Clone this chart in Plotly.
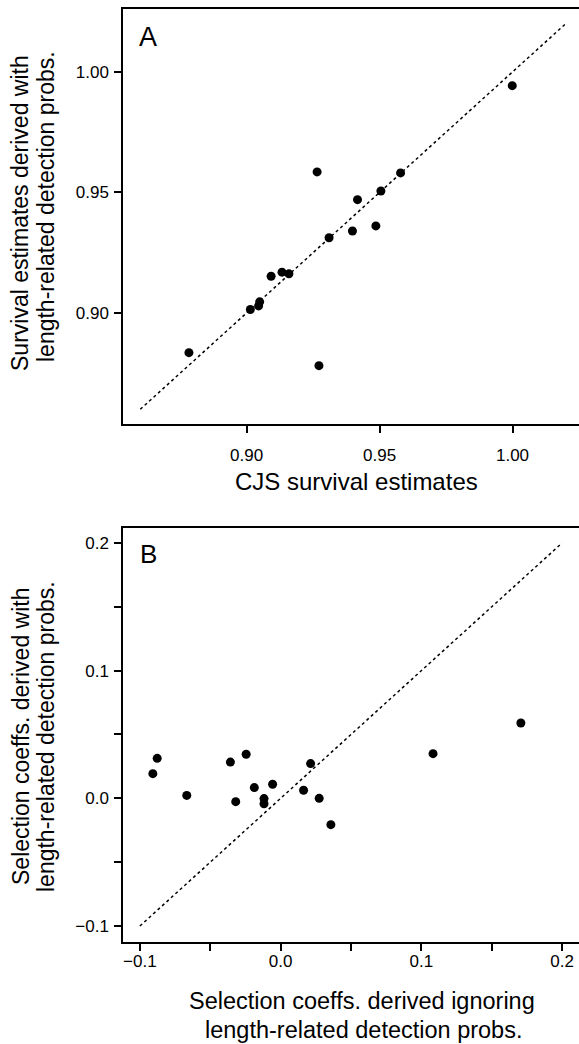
import plotly.graph_objects as go

# Panel A data
cjs_surv = [0.9265, 0.9999, 0.9579, 0.9505, 0.9417, 0.9310, 0.9398, 0.9486,
            0.9092, 0.9133, 0.9159, 0.9014, 0.9045, 0.9049, 0.8783, 0.9272]
len_surv = [0.9585, 0.9943, 0.9581, 0.9506, 0.9470, 0.9312, 0.9340, 0.9361,
            0.9152, 0.9169, 0.9162, 0.9014, 0.9029, 0.9046, 0.8835, 0.8781]
line_a = [0.86, 1.02]

# Panel B data
sel_ignore = [-0.0908, -0.0877, -0.0667, -0.0357, -0.0319, -0.0245, -0.0187, -0.0118,
              -0.0118, -0.0057, 0.0163, 0.0213, 0.0274, 0.0357, 0.1083, 0.1707]
sel_with = [0.0193, 0.0313, 0.0023, 0.0284, -0.0026, 0.0345, 0.0084, -0.0002,
            -0.0042, 0.0110, 0.0063, 0.0272, 0.0000, -0.0206, 0.0350, 0.0590]
line_b = [-0.1, 0.2]

a_ticks = [0.90, 0.95, 1.00]
a_ticktext = ["0.90", "0.95", "1.00"]
b_ticks = [-0.1, -0.05, 0.0, 0.05, 0.1, 0.15, 0.2]
b_ticktext = ["\u22120.1", "", "0.0", "", "0.1", "", "0.2"]

W, H = 579, 1044
FONT = "Liberation Sans, Arial, Helvetica, sans-serif"

fig = go.Figure()
fig.add_trace(go.Scatter(x=line_a, y=line_a, mode="lines",
                         line=dict(color="black", width=1.5, dash="3px,3px"),
                         xaxis="x", yaxis="y", showlegend=False))
fig.add_trace(go.Scatter(x=cjs_surv, y=len_surv, mode="markers",
                         marker=dict(color="black", size=9),
                         xaxis="x", yaxis="y", showlegend=False))
fig.add_trace(go.Scatter(x=line_b, y=line_b, mode="lines",
                         line=dict(color="black", width=1.5, dash="3px,3px"),
                         xaxis="x2", yaxis="y2", showlegend=False))
fig.add_trace(go.Scatter(x=sel_ignore, y=sel_with, mode="markers",
                         marker=dict(color="black", size=9),
                         xaxis="x2", yaxis="y2", showlegend=False))

xdom = [123 / W, 1.0]
ydomA = [1 - 424 / H, 1 - 9 / H]
ydomB = [1 - 942 / H, 1 - 528 / H]

axis_common = dict(showline=True, linecolor="black", linewidth=1.5,
                   ticks="outside", ticklen=7, tickwidth=1.5, tickcolor="black",
                   showgrid=False, zeroline=False,
                   tickfont=dict(family=FONT, size=17, color="black"))

fig.update_layout(
    width=W, height=H,
    margin=dict(l=0, r=0, t=0, b=0),
    paper_bgcolor="white", plot_bgcolor="white",
    font=dict(family=FONT, color="black"),
    xaxis=dict(domain=xdom, range=[0.8535, 1.025], tickvals=a_ticks, ticktext=a_ticktext,
               mirror=True, anchor="y", ticklabelstandoff=8, **axis_common),
    yaxis=dict(domain=ydomA, range=[0.8539, 1.0261], tickvals=a_ticks, ticktext=a_ticktext,
               mirror=False, anchor="x", ticklabelstandoff=2, **axis_common),
    xaxis2=dict(domain=xdom, range=[-0.112, 0.212], tickvals=b_ticks, ticktext=b_ticktext,
                mirror=True, anchor="y2", ticklabelstandoff=-4, **axis_common),
    yaxis2=dict(domain=ydomB, range=[-0.1125, 0.2117], tickvals=b_ticks, ticktext=b_ticktext,
                mirror=False, anchor="x2", ticklabelstandoff=2, **axis_common),
)

def ann(text, px, py, size, angle=0):
    fig.add_annotation(text=text, x=px / W, y=1 - py / H, xref="paper", yref="paper",
                       showarrow=False, textangle=angle, xanchor="center", yanchor="middle",
                       font=dict(family=FONT, size=size, color="black"))

ann("A", 148, 37, 27)
ann("B", 148, 554, 26)
ann("Survival estimates derived with", 20, 213, 23, -90)
ann("length-related detection probs.", 46, 207, 23, -90)
ann("CJS survival estimates", 356, 481, 24)
ann("Selection coeffs. derived with", 21, 737, 23, -90)
ann("length-related detection probs.", 46, 737, 23, -90)
ann("Selection coeffs. derived ignoring", 362, 1001, 23.5)
ann("length-related detection probs.", 363, 1030, 23.5)

fig.write_html("out.html")
